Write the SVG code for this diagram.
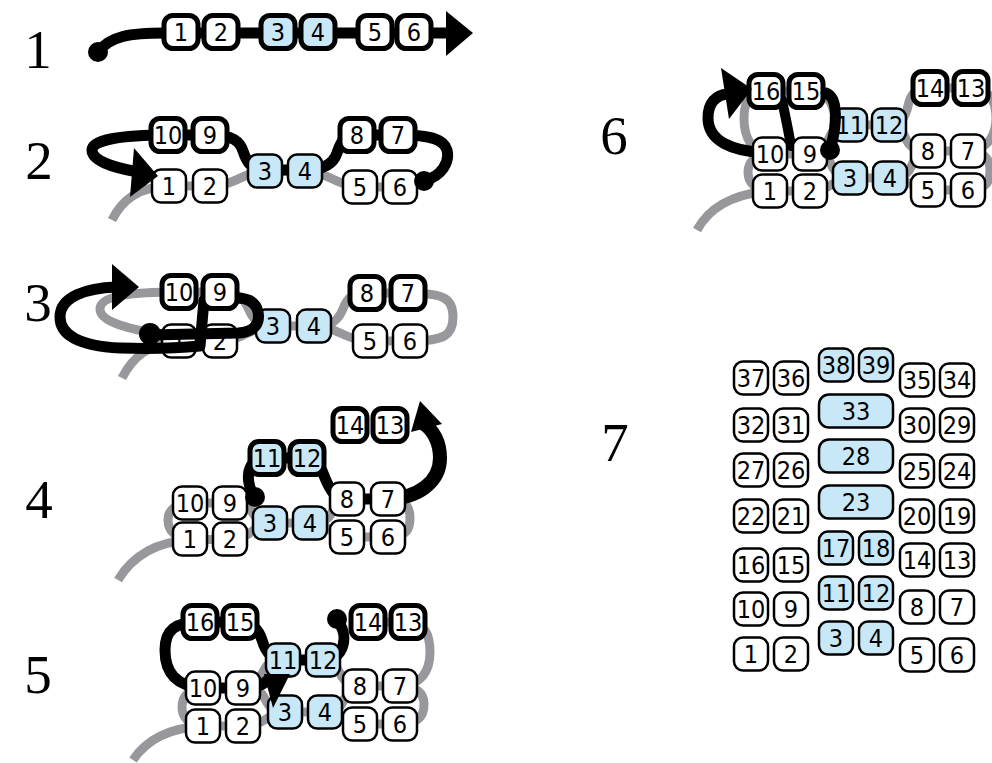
<svg xmlns="http://www.w3.org/2000/svg" width="992" height="763" viewBox="0 0 992 763">
<style>
.n rect{fill:#fff;stroke:#000;stroke-width:2.5}
.n.c rect{fill:#c9e8f7}
.n.t rect{stroke-width:5}
.n text{font-family:"DejaVu Sans Condensed","DejaVu Sans",sans-serif;font-stretch:condensed;font-size:25px;text-anchor:middle;fill:#000}
.g{fill:none;stroke:#98989c;stroke-width:9}
.k{fill:none;stroke:#000;stroke-width:11;stroke-linecap:round;stroke-linejoin:round}
.lbl{font-family:"Liberation Serif","DejaVu Serif",serif;font-size:55px;text-anchor:middle;fill:#000}
</style>
<rect width="992" height="763" fill="#fff"/>
<g id="labels">
<text class="lbl" x="38" y="68">1</text>
<text class="lbl" x="39" y="179">2</text>
<text class="lbl" x="38" y="321">3</text>
<text class="lbl" x="39" y="518">4</text>
<text class="lbl" x="38" y="693">5</text>
<text class="lbl" x="614" y="154">6</text>
<text class="lbl" x="615" y="461">7</text>
</g>
<g id="connectors-gray">
<path class="g" d="M112 220C122 200 138 187 169 186L210 186C235 186 245 171 265 171L305 171C325 171 340 187 360 187L400 187"/>
<path class="g" d="M122 378C132 358 148 343 179 341L220 341C242 341 250 327 273 326L314 326C336 326 346 341 370 341L410 341"/>
<path class="g" d="M410 341C445 341 453 335 453 317C453 299 445 293 408 293L367 293"/>
<path class="g" d="M367 293C348 293 346 302 342 311C338 320 332 326 314 326"/>
<path class="g" d="M273 326C256 326 252 317 248 308C244 299 238 292 220 292L179 292"/>
<path class="g" d="M179 292C130 292 100 296 100 309C100 322 130 330 168 335"/>
<path class="g" d="M118 580C130 560 152 542 190 540L230 539C252 539 254 524 270 523L310 523C330 523 332 537 347 537L388 537"/>
<path class="g" d="M388 537C408 537 410 528 410 518C410 506 404 499 388 499"/>
<path class="g" d="M347 499C336 499 334 508 331 514C328 520 322 523 310 523"/>
<path class="g" d="M270 523C256 523 254 515 251 510C248 505 243 503 230 503L190 503"/>
<path class="g" d="M190 503C175 503 168 511 168 520C168 531 176 539 190 539"/>
<path class="g" d="M133 760C145 742 165 728 203 726L243 726C264 726 268 713 285 712L325 712C345 712 346 724 360 724L400 724"/>
<path class="g" d="M400 724C422 724 424 713 424 704C424 693 416 686 400 686"/>
<path class="g" d="M360 686C348 686 346 696 343 702C340 708 336 712 325 712"/>
<path class="g" d="M285 712C270 712 267 703 264 697C261 691 256 688 243 688L203 688"/>
<path class="g" d="M203 688C189 688 182 697 182 707C182 718 190 726 203 726"/>
<path class="g" d="M243 688C256 688 260 678 264 670C267 664 272 660 283 660L323 660C335 660 338 670 342 677C346 683 350 686 360 686L400 686C422 685 430 670 430 652C430 634 424 622 408 622L368 622"/>
<path class="g" d="M697 230C708 210 730 194 770 191L810 191C830 191 833 179 850 178L890 178C910 178 912 190 928 190L968 190"/>
<path class="g" d="M968 190C988 190 990 180 990 170C990 159 984 151 968 151"/>
<path class="g" d="M928 151C916 151 914 161 911 167C908 174 902 178 890 178"/>
<path class="g" d="M850 178C836 178 833 168 830 162C827 157 822 154 810 154L770 154"/>
<path class="g" d="M770 154C755 154 748 163 748 172C748 183 756 191 770 191"/>
<path class="g" d="M810 154C824 154 827 142 830 136C833 129 838 125 850 125L889 125C901 125 904 135 907 141C910 147 915 151 928 151L968 151C988 150 996 135 996 118C996 100 988 88 971 88L930 88"/>
<path class="g" d="M930 88C914 88 910 96 908 106C906 116 900 125 889 125"/>
<path class="g" d="M850 125C838 125 835 114 832 106C829 97 822 91 806 91L766 91C750 91 744 102 744 118C744 138 752 152 770 154"/>
</g>
<g id="p3-lower">
<g id="p3-1" class="n" transform="translate(179 341)"><rect x="-17" y="-16.5" width="34" height="33" rx="9"/><text y="9">1</text></g>
<g id="p3-2" class="n" transform="translate(220 341)"><rect x="-17" y="-16.5" width="34" height="33" rx="9"/><text y="9">2</text></g>
<g id="p3-3" class="n c" transform="translate(273 326)"><rect x="-17" y="-16.5" width="34" height="33" rx="9"/><text y="9">3</text></g>
<g id="p3-4" class="n c" transform="translate(314 326)"><rect x="-17" y="-16.5" width="34" height="33" rx="9"/><text y="9">4</text></g>
<g id="p3-5" class="n" transform="translate(370 341)"><rect x="-17" y="-16.5" width="34" height="33" rx="9"/><text y="9">5</text></g>
<g id="p3-6" class="n" transform="translate(410 341)"><rect x="-17" y="-16.5" width="34" height="33" rx="9"/><text y="9">6</text></g>
</g>
<g id="connectors-black">
<path class="k" d="M98 52C110 36 130 33 165 33L450 33"/>
<path class="k" d="M424 181C442 176 450 162 447 150C444 140 433 135 398 135L357 135C342 135 340 145 337 153C334 162 326 170 305 170L265 170C250 170 246 160 243 151C240 142 234 135 210 135L168 135C120 135 92 140 92 150C92 160 110 167 138 172"/>
<path class="k" d="M150 335L238 333C256 332 260 322 258 312C256 302 248 298 236 298"/>
<path class="k" d="M204 300L200 346C180 348 150 349 120 348C80 346 60 335 60 317C60 296 88 288 116 287"/>
<path class="k" d="M255 497C248 488 247 475 250 468C253 461 258 458 267 458L307 458C318 458 321 468 325 478C330 490 335 499 347 499L388 499"/>
<path class="k" style="stroke-width:14" d="M388 499C418 498 440 482 440 458C440 442 433 430 424 424"/>
<path class="k" d="M337 620C345 630 346 642 340 652C336 658 330 660 323 660L283 660C270 660 265 650 262 640C259 630 252 622 240 622L200 622C175 622 165 630 165 650C165 672 175 686 203 688L243 688C255 688 262 686 268 680"/>
<path class="k" d="M770 153C730 152 708 140 708 118C708 102 716 95 728 94"/>
<path class="k" style="stroke-width:10" d="M782 100C785 115 788 128 791 146"/>
</g>
<g id="nodes">
<g id="p1-1" class="n t" transform="translate(181 32)"><rect x="-17" y="-16.5" width="34" height="33" rx="9"/><text y="9">1</text></g>
<g id="p1-2" class="n t" transform="translate(221 32)"><rect x="-17" y="-16.5" width="34" height="33" rx="9"/><text y="9">2</text></g>
<g id="p1-3" class="n t c" transform="translate(278 32)"><rect x="-17" y="-16.5" width="34" height="33" rx="9"/><text y="9">3</text></g>
<g id="p1-4" class="n t c" transform="translate(318 32)"><rect x="-17" y="-16.5" width="34" height="33" rx="9"/><text y="9">4</text></g>
<g id="p1-5" class="n t" transform="translate(375 32)"><rect x="-17" y="-16.5" width="34" height="33" rx="9"/><text y="9">5</text></g>
<g id="p1-6" class="n t" transform="translate(414 32)"><rect x="-17" y="-16.5" width="34" height="33" rx="9"/><text y="9">6</text></g>

<g id="p2-1" class="n" transform="translate(169 186)"><rect x="-17" y="-16.5" width="34" height="33" rx="9"/><text y="9">1</text></g>
<g id="p2-2" class="n" transform="translate(210 186)"><rect x="-17" y="-16.5" width="34" height="33" rx="9"/><text y="9">2</text></g>
<g id="p2-3" class="n c" transform="translate(265 171)"><rect x="-17" y="-16.5" width="34" height="33" rx="9"/><text y="9">3</text></g>
<g id="p2-4" class="n c" transform="translate(305 171)"><rect x="-17" y="-16.5" width="34" height="33" rx="9"/><text y="9">4</text></g>
<g id="p2-5" class="n" transform="translate(360 187)"><rect x="-17" y="-16.5" width="34" height="33" rx="9"/><text y="9">5</text></g>
<g id="p2-6" class="n" transform="translate(400 187)"><rect x="-17" y="-16.5" width="34" height="33" rx="9"/><text y="9">6</text></g>
<g id="p2-10" class="n t" transform="translate(168 135)"><rect x="-17" y="-16.5" width="34" height="33" rx="9"/><text y="9">10</text></g>
<g id="p2-9" class="n t" transform="translate(210 135)"><rect x="-17" y="-16.5" width="34" height="33" rx="9"/><text y="9">9</text></g>
<g id="p2-8" class="n t" transform="translate(357 135)"><rect x="-17" y="-16.5" width="34" height="33" rx="9"/><text y="9">8</text></g>
<g id="p2-7" class="n t" transform="translate(398 135)"><rect x="-17" y="-16.5" width="34" height="33" rx="9"/><text y="9">7</text></g>

<g id="p3-10" class="n t" transform="translate(179 292)"><rect x="-17" y="-16.5" width="34" height="33" rx="9"/><text y="9">10</text></g>
<g id="p3-9" class="n t" transform="translate(220 292)"><rect x="-17" y="-16.5" width="34" height="33" rx="9"/><text y="9">9</text></g>
<g id="p3-8" class="n t" transform="translate(367 293)"><rect x="-17" y="-16.5" width="34" height="33" rx="9"/><text y="9">8</text></g>
<g id="p3-7" class="n t" transform="translate(408 293)"><rect x="-17" y="-16.5" width="34" height="33" rx="9"/><text y="9">7</text></g>

<g id="p4-10" class="n" transform="translate(190 503)"><rect x="-17" y="-16.5" width="34" height="33" rx="9"/><text y="9">10</text></g>
<g id="p4-9" class="n" transform="translate(230 503)"><rect x="-17" y="-16.5" width="34" height="33" rx="9"/><text y="9">9</text></g>
<g id="p4-8" class="n" transform="translate(347 499)"><rect x="-17" y="-16.5" width="34" height="33" rx="9"/><text y="9">8</text></g>
<g id="p4-7" class="n" transform="translate(388 499)"><rect x="-17" y="-16.5" width="34" height="33" rx="9"/><text y="9">7</text></g>
<g id="p4-3" class="n c" transform="translate(270 523)"><rect x="-17" y="-16.5" width="34" height="33" rx="9"/><text y="9">3</text></g>
<g id="p4-4" class="n c" transform="translate(310 523)"><rect x="-17" y="-16.5" width="34" height="33" rx="9"/><text y="9">4</text></g>
<g id="p4-1" class="n" transform="translate(190 539)"><rect x="-17" y="-16.5" width="34" height="33" rx="9"/><text y="9">1</text></g>
<g id="p4-2" class="n" transform="translate(230 539)"><rect x="-17" y="-16.5" width="34" height="33" rx="9"/><text y="9">2</text></g>
<g id="p4-5" class="n" transform="translate(347 537)"><rect x="-17" y="-16.5" width="34" height="33" rx="9"/><text y="9">5</text></g>
<g id="p4-6" class="n" transform="translate(388 537)"><rect x="-17" y="-16.5" width="34" height="33" rx="9"/><text y="9">6</text></g>
<g id="p4-11" class="n t c" transform="translate(267 458)"><rect x="-17" y="-16.5" width="34" height="33" rx="9"/><text y="9">11</text></g>
<g id="p4-12" class="n t c" transform="translate(307 458)"><rect x="-17" y="-16.5" width="34" height="33" rx="9"/><text y="9">12</text></g>
<g id="p4-14" class="n t" transform="translate(350 425)"><rect x="-17" y="-16.5" width="34" height="33" rx="9"/><text y="9">14</text></g>
<g id="p4-13" class="n t" transform="translate(390 425)"><rect x="-17" y="-16.5" width="34" height="33" rx="9"/><text y="9">13</text></g>

<g id="p5-11" class="n c" transform="translate(283 660)"><rect x="-17" y="-16.5" width="34" height="33" rx="9"/><text y="9">11</text></g>
<g id="p5-12" class="n c" transform="translate(323 660)"><rect x="-17" y="-16.5" width="34" height="33" rx="9"/><text y="9">12</text></g>
<g id="p5-10" class="n" transform="translate(203 688)"><rect x="-17" y="-16.5" width="34" height="33" rx="9"/><text y="9">10</text></g>
<g id="p5-9" class="n" transform="translate(243 688)"><rect x="-17" y="-16.5" width="34" height="33" rx="9"/><text y="9">9</text></g>
<g id="p5-8" class="n" transform="translate(360 686)"><rect x="-17" y="-16.5" width="34" height="33" rx="9"/><text y="9">8</text></g>
<g id="p5-7" class="n" transform="translate(400 686)"><rect x="-17" y="-16.5" width="34" height="33" rx="9"/><text y="9">7</text></g>
<g id="p5-3" class="n c" transform="translate(285 712)"><rect x="-17" y="-16.5" width="34" height="33" rx="9"/><text y="9">3</text></g>
<g id="p5-4" class="n c" transform="translate(325 712)"><rect x="-17" y="-16.5" width="34" height="33" rx="9"/><text y="9">4</text></g>
<g id="p5-1" class="n" transform="translate(203 726)"><rect x="-17" y="-16.5" width="34" height="33" rx="9"/><text y="9">1</text></g>
<g id="p5-2" class="n" transform="translate(243 726)"><rect x="-17" y="-16.5" width="34" height="33" rx="9"/><text y="9">2</text></g>
<g id="p5-5" class="n" transform="translate(360 724)"><rect x="-17" y="-16.5" width="34" height="33" rx="9"/><text y="9">5</text></g>
<g id="p5-6" class="n" transform="translate(400 724)"><rect x="-17" y="-16.5" width="34" height="33" rx="9"/><text y="9">6</text></g>
<g id="p5-16" class="n t" transform="translate(200 622)"><rect x="-17" y="-16.5" width="34" height="33" rx="9"/><text y="9">16</text></g>
<g id="p5-15" class="n t" transform="translate(240 622)"><rect x="-17" y="-16.5" width="34" height="33" rx="9"/><text y="9">15</text></g>
<g id="p5-14" class="n t" transform="translate(368 622)"><rect x="-17" y="-16.5" width="34" height="33" rx="9"/><text y="9">14</text></g>
<g id="p5-13" class="n t" transform="translate(408 622)"><rect x="-17" y="-16.5" width="34" height="33" rx="9"/><text y="9">13</text></g>

<g id="p6-11" class="n c" transform="translate(850 125)"><rect x="-17" y="-16.5" width="34" height="33" rx="9"/><text y="9">11</text></g>
<g id="p6-12" class="n c" transform="translate(889 125)"><rect x="-17" y="-16.5" width="34" height="33" rx="9"/><text y="9">12</text></g>
<g id="p6-10" class="n" transform="translate(770 154)"><rect x="-17" y="-16.5" width="34" height="33" rx="9"/><text y="9">10</text></g>
<g id="p6-9" class="n" transform="translate(810 154)"><rect x="-17" y="-16.5" width="34" height="33" rx="9"/><text y="9">9</text></g>
<g id="p6-8" class="n" transform="translate(928 151)"><rect x="-17" y="-16.5" width="34" height="33" rx="9"/><text y="9">8</text></g>
<g id="p6-7" class="n" transform="translate(968 151)"><rect x="-17" y="-16.5" width="34" height="33" rx="9"/><text y="9">7</text></g>
<g id="p6-3" class="n c" transform="translate(850 178)"><rect x="-17" y="-16.5" width="34" height="33" rx="9"/><text y="9">3</text></g>
<g id="p6-4" class="n c" transform="translate(890 178)"><rect x="-17" y="-16.5" width="34" height="33" rx="9"/><text y="9">4</text></g>
<g id="p6-1" class="n" transform="translate(770 191)"><rect x="-17" y="-16.5" width="34" height="33" rx="9"/><text y="9">1</text></g>
<g id="p6-2" class="n" transform="translate(810 191)"><rect x="-17" y="-16.5" width="34" height="33" rx="9"/><text y="9">2</text></g>
<g id="p6-5" class="n" transform="translate(928 190)"><rect x="-17" y="-16.5" width="34" height="33" rx="9"/><text y="9">5</text></g>
<g id="p6-6" class="n" transform="translate(968 190)"><rect x="-17" y="-16.5" width="34" height="33" rx="9"/><text y="9">6</text></g>
<g id="p6-16" class="n t" transform="translate(766 91)"><rect x="-17" y="-16.5" width="34" height="33" rx="9"/><text y="9">16</text></g>
<g id="p6-15" class="n t" transform="translate(806 91)"><rect x="-17" y="-16.5" width="34" height="33" rx="9"/><text y="9">15</text></g>
<g id="p6-14" class="n t" transform="translate(930 88)"><rect x="-17" y="-16.5" width="34" height="33" rx="9"/><text y="9">14</text></g>
<g id="p6-13" class="n t" transform="translate(971 88)"><rect x="-17" y="-16.5" width="34" height="33" rx="9"/><text y="9">13</text></g>

<g id="p7-37" class="n" transform="translate(751 378)"><rect x="-17" y="-16.5" width="34" height="33" rx="9"/><text y="9">37</text></g>
<g id="p7-36" class="n" transform="translate(791 378)"><rect x="-17" y="-16.5" width="34" height="33" rx="9"/><text y="9">36</text></g>
<g id="p7-32" class="n" transform="translate(751 425)"><rect x="-17" y="-16.5" width="34" height="33" rx="9"/><text y="9">32</text></g>
<g id="p7-31" class="n" transform="translate(791 425)"><rect x="-17" y="-16.5" width="34" height="33" rx="9"/><text y="9">31</text></g>
<g id="p7-27" class="n" transform="translate(751 470)"><rect x="-17" y="-16.5" width="34" height="33" rx="9"/><text y="9">27</text></g>
<g id="p7-26" class="n" transform="translate(791 470)"><rect x="-17" y="-16.5" width="34" height="33" rx="9"/><text y="9">26</text></g>
<g id="p7-22" class="n" transform="translate(751 516)"><rect x="-17" y="-16.5" width="34" height="33" rx="9"/><text y="9">22</text></g>
<g id="p7-21" class="n" transform="translate(791 516)"><rect x="-17" y="-16.5" width="34" height="33" rx="9"/><text y="9">21</text></g>
<g id="p7-16" class="n" transform="translate(751 565)"><rect x="-17" y="-16.5" width="34" height="33" rx="9"/><text y="9">16</text></g>
<g id="p7-15" class="n" transform="translate(791 565)"><rect x="-17" y="-16.5" width="34" height="33" rx="9"/><text y="9">15</text></g>
<g id="p7-10" class="n" transform="translate(751 609)"><rect x="-17" y="-16.5" width="34" height="33" rx="9"/><text y="9">10</text></g>
<g id="p7-9" class="n" transform="translate(791 609)"><rect x="-17" y="-16.5" width="34" height="33" rx="9"/><text y="9">9</text></g>
<g id="p7-1" class="n" transform="translate(751 654)"><rect x="-17" y="-16.5" width="34" height="33" rx="9"/><text y="9">1</text></g>
<g id="p7-2" class="n" transform="translate(791 654)"><rect x="-17" y="-16.5" width="34" height="33" rx="9"/><text y="9">2</text></g>
<g id="p7-38" class="n c" transform="translate(836 365)"><rect x="-17" y="-16.5" width="34" height="33" rx="9"/><text y="9">38</text></g>
<g id="p7-39" class="n c" transform="translate(876 365)"><rect x="-17" y="-16.5" width="34" height="33" rx="9"/><text y="9">39</text></g>
<g id="p7-33" class="n c" transform="translate(856 411)"><rect x="-37" y="-16.5" width="74" height="33" rx="10"/><text y="9">33</text></g>
<g id="p7-28" class="n c" transform="translate(856 456)"><rect x="-37" y="-16.5" width="74" height="33" rx="10"/><text y="9">28</text></g>
<g id="p7-23" class="n c" transform="translate(856 502)"><rect x="-37" y="-16.5" width="74" height="33" rx="10"/><text y="9">23</text></g>
<g id="p7-17" class="n c" transform="translate(836 548)"><rect x="-17" y="-16.5" width="34" height="33" rx="9"/><text y="9">17</text></g>
<g id="p7-18" class="n c" transform="translate(876 548)"><rect x="-17" y="-16.5" width="34" height="33" rx="9"/><text y="9">18</text></g>
<g id="p7-11" class="n c" transform="translate(836 593)"><rect x="-17" y="-16.5" width="34" height="33" rx="9"/><text y="9">11</text></g>
<g id="p7-12" class="n c" transform="translate(876 593)"><rect x="-17" y="-16.5" width="34" height="33" rx="9"/><text y="9">12</text></g>
<g id="p7-3" class="n c" transform="translate(836 638)"><rect x="-17" y="-16.5" width="34" height="33" rx="9"/><text y="9">3</text></g>
<g id="p7-4" class="n c" transform="translate(876 638)"><rect x="-17" y="-16.5" width="34" height="33" rx="9"/><text y="9">4</text></g>
<g id="p7-35" class="n" transform="translate(917 380)"><rect x="-17" y="-16.5" width="34" height="33" rx="9"/><text y="9">35</text></g>
<g id="p7-34" class="n" transform="translate(957 380)"><rect x="-17" y="-16.5" width="34" height="33" rx="9"/><text y="9">34</text></g>
<g id="p7-30" class="n" transform="translate(917 425)"><rect x="-17" y="-16.5" width="34" height="33" rx="9"/><text y="9">30</text></g>
<g id="p7-29" class="n" transform="translate(957 425)"><rect x="-17" y="-16.5" width="34" height="33" rx="9"/><text y="9">29</text></g>
<g id="p7-25" class="n" transform="translate(917 471)"><rect x="-17" y="-16.5" width="34" height="33" rx="9"/><text y="9">25</text></g>
<g id="p7-24" class="n" transform="translate(957 471)"><rect x="-17" y="-16.5" width="34" height="33" rx="9"/><text y="9">24</text></g>
<g id="p7-20" class="n" transform="translate(917 516)"><rect x="-17" y="-16.5" width="34" height="33" rx="9"/><text y="9">20</text></g>
<g id="p7-19" class="n" transform="translate(957 516)"><rect x="-17" y="-16.5" width="34" height="33" rx="9"/><text y="9">19</text></g>
<g id="p7-14" class="n" transform="translate(917 560)"><rect x="-17" y="-16.5" width="34" height="33" rx="9"/><text y="9">14</text></g>
<g id="p7-13" class="n" transform="translate(957 560)"><rect x="-17" y="-16.5" width="34" height="33" rx="9"/><text y="9">13</text></g>
<g id="p7-8" class="n" transform="translate(917 607)"><rect x="-17" y="-16.5" width="34" height="33" rx="9"/><text y="9">8</text></g>
<g id="p7-7" class="n" transform="translate(957 607)"><rect x="-17" y="-16.5" width="34" height="33" rx="9"/><text y="9">7</text></g>
<g id="p7-5" class="n" transform="translate(917 655)"><rect x="-17" y="-16.5" width="34" height="33" rx="9"/><text y="9">5</text></g>
<g id="p7-6" class="n" transform="translate(957 655)"><rect x="-17" y="-16.5" width="34" height="33" rx="9"/><text y="9">6</text></g>
</g>
<g id="connector-ends">
<circle cx="98" cy="52" r="10"/>
<polygon points="446,11 473,33 446,56"/>
<circle cx="424" cy="181" r="10"/>
<polygon points="134,148 158,176 130,197"/>
<circle cx="150" cy="334" r="11"/>
<polygon points="112,264 139,287 112,310"/>
<circle cx="255" cy="497" r="10"/>
<polygon points="420,401 442,424 411,432"/>
<circle cx="337" cy="619" r="10"/>
<polygon points="264,674 290,674 273,708"/>
<polygon points="721,68 752,89 729,119"/>
<path class="k" d="M830 150C836 130 837 110 833 100C831 96 829 94 826 93"/>
<circle cx="830" cy="150" r="10"/>
</g>
</svg>
